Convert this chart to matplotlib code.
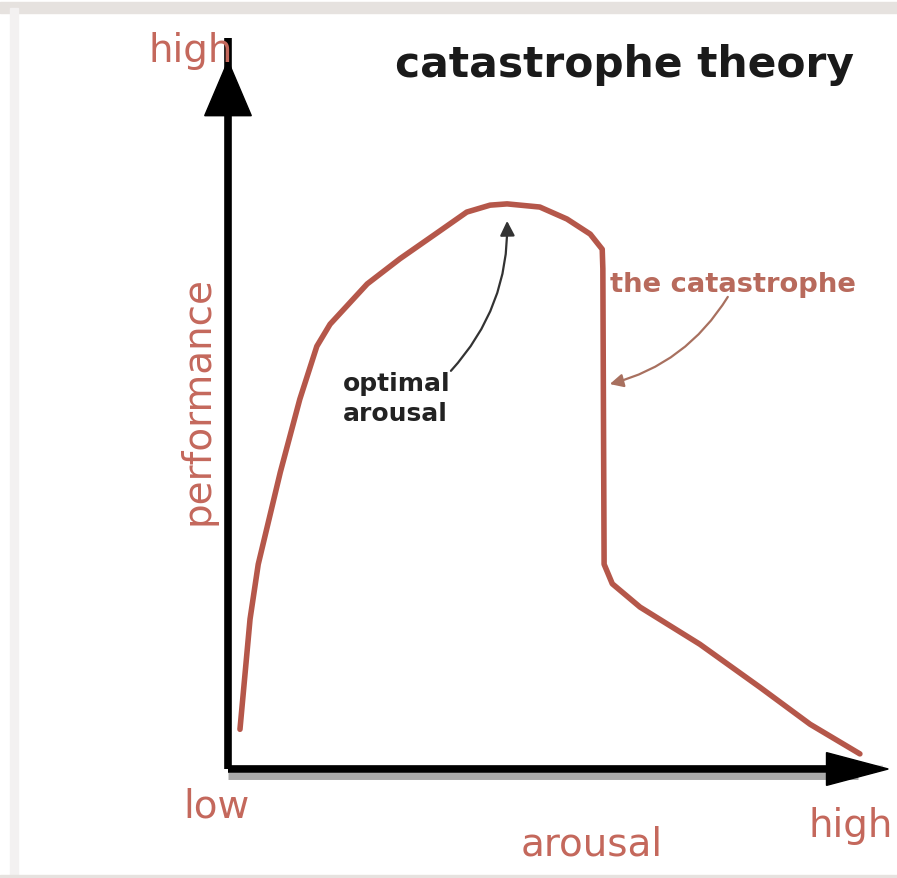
import matplotlib
matplotlib.use("Agg")
import matplotlib.pyplot as plt
from matplotlib.patches import Polygon, Rectangle

# curve of performance vs arousal (arbitrary units, 0-100)
AROUSAL = [1.9, 3.5, 4.8, 8.3, 11.4, 14.1, 16.2, 22.1, 27.3, 32.9, 37.9, 41.6,
           44.3, 49.5, 53.8, 57.5, 59.4, 59.5, 59.7, 61.0, 65.4, 74.9, 84.4,
           92.4, 100.3]
PERFORMANCE = [6.3, 23.8, 32.5, 47.1, 58.7, 67.1, 70.6, 77.0, 81.0, 84.9, 88.4,
               89.5, 89.7, 89.2, 87.3, 84.9, 82.5, 79.4, 32.5, 29.4, 25.7, 19.8,
               13.0, 7.1, 2.4]

OPTIMAL = (44.3, 87.0)      # where "optimal arousal" points
CATASTROPHE = (60.6, 61.1)  # where "the catastrophe" points

TITLE = "catastrophe theory"
X_LABEL = "arousal"
Y_LABEL = "performance"

CURVE_COL = "#b5574a"
LABEL_COL = "#c4685c"

PX = 6.3  # pixels per data unit
fig = plt.figure(figsize=(8.97, 8.79), dpi=100)
ax = fig.add_axes([0, 0, 1, 1])
ax.set_xlim(-228 / PX, (897 - 228) / PX)
ax.set_ylim(-(879 - 770) / PX, 770 / PX)
ax.axis("off")

# faint frame like the screenshot
fig.patches.append(Rectangle((0, 0.984), 1, 0.013, transform=fig.transFigure,
                             color="#e6e2df", zorder=0))
fig.patches.append(Rectangle((0.011, 0.0), 0.009, 0.99, transform=fig.transFigure,
                             color="#f3f1f1", zorder=0))
fig.patches.append(Rectangle((0, 0.0), 1, 0.003, transform=fig.transFigure,
                             color="#e6e2df", zorder=0))

# axes with arrow heads
ax.plot([0, 104], [0.15, 0.15], color="#dddddd", lw=4, solid_capstyle="butt", zorder=1)
ax.plot([0, 100], [-1.1, -1.1], color="#aaaaaa", lw=5, solid_capstyle="butt", zorder=1)
ax.plot([0, 0], [0, 116], color="black", lw=5.5, solid_capstyle="butt", zorder=3)
ax.plot([0, 98], [0, 0], color="black", lw=5.5, solid_capstyle="butt", zorder=3)
ax.add_patch(Polygon([[-3.7, 103.7], [3.7, 103.7], [0, 112.4]], closed=True,
                     color="black", zorder=3))
ax.add_patch(Polygon([[95, 2.6], [95, -2.6], [104.8, 0]], closed=True,
                     color="black", zorder=3))

ax.plot(AROUSAL, PERFORMANCE, color=CURVE_COL, lw=4, solid_joinstyle="round",
        solid_capstyle="round", zorder=2)

# texts
ax.text(62.9, 111.9, TITLE, fontsize=30.5, fontweight="bold", color="#1a1a1a",
        ha="center", va="center")
ax.text(-6.0, 112.4, "high", fontsize=28, color=LABEL_COL, ha="center", va="baseline")
ax.text(-1.9, -7.6, "low", fontsize=28, color=LABEL_COL, ha="center", va="baseline")
ax.text(92.2, -10.6, "high", fontsize=28, color=LABEL_COL, ha="left", va="baseline")
ax.text(57.8, -13.5, X_LABEL, fontsize=28, color=LABEL_COL, ha="center", va="baseline")
ax.text(-4.9, 58.7, Y_LABEL, fontsize=28, color=LABEL_COL, ha="center", va="center",
        rotation=90)

ax.annotate("optimal\narousal", xy=OPTIMAL, xytext=(18.3, 63.2), fontsize=18,
            fontweight="bold", color="#222222", ha="left", va="top", linespacing=1.3,
            arrowprops=dict(arrowstyle="-|>", color="#333333", lw=1.6,
                            mutation_scale=22, shrinkA=0, shrinkB=0,
                            connectionstyle="arc3,rad=0.2", patchA=None,
                            relpos=(1.0, 1.0)))
ax.annotate("the catastrophe", xy=CATASTROPHE, xytext=(60.6, 77.0), fontsize=19.7,
            fontweight="bold", color="#b86a5c", ha="left", va="center",
            arrowprops=dict(arrowstyle="-|>", color="#a8705f", lw=1.6,
                            mutation_scale=20, shrinkA=0, shrinkB=0,
                            connectionstyle="arc3,rad=-0.2", patchA=None,
                            relpos=(0.48, 0.0)))

fig.savefig("out.png", dpi=100, facecolor="white")
